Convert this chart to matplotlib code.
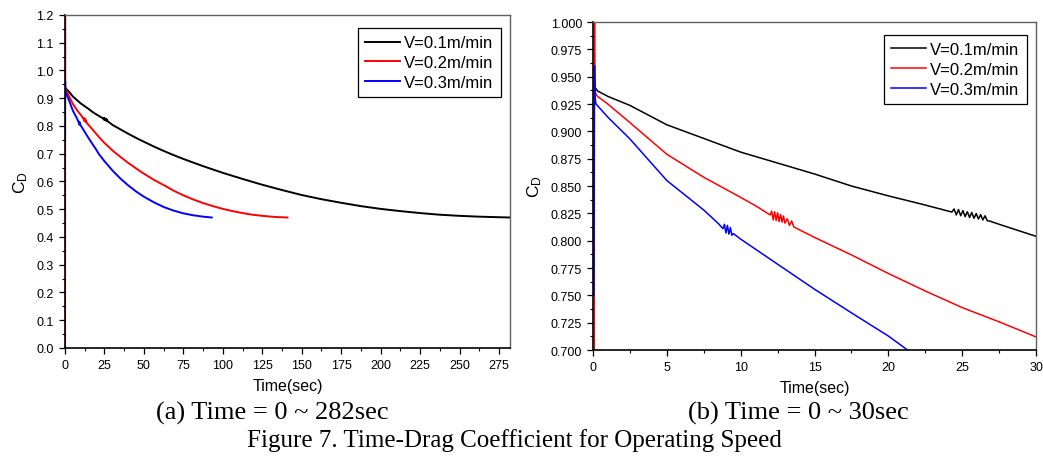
import matplotlib
matplotlib.use('Agg')
import matplotlib.pyplot as plt
from matplotlib.ticker import MultipleLocator, FormatStrFormatter

plt.rcParams['font.family'] = ['Liberation Sans', 'DejaVu Sans']
plt.rcParams['mathtext.default'] = 'regular'

# === Data ===
labels = ['V=0.1m/min', 'V=0.2m/min', 'V=0.3m/min']
colors = ['black', 'red', 'blue']

# V=0.1 m/min
t_01 = [0.15, 0.3, 1, 2.5, 5, 7.5, 10, 12.5, 15, 17.5, 20, 22.5,
        24.3, 24.45, 24.6, 24.75, 24.9, 25.05, 25.2, 25.35, 25.5, 25.65,
        25.8, 25.95, 26.1, 26.25, 26.4, 26.55, 26.7, 26.85,
        27.5, 30, 35, 40, 45, 50, 56.25, 62.5, 68.75, 75, 81.25, 87.5, 93.75,
        100, 112.5, 125, 137.5, 150, 162.5, 175, 187.5, 200, 212.5, 225,
        237.5, 250, 262.5, 275, 282]
cd_01 = [0.940, 0.937, 0.932, 0.9237, 0.906, 0.8935, 0.881, 0.871, 0.861, 0.850, 0.841, 0.8326,
         0.8262, 0.8290, 0.8235, 0.8285, 0.8228, 0.8275, 0.8220, 0.8265, 0.8212, 0.8258,
         0.8205, 0.8248, 0.8198, 0.8238, 0.8190, 0.8228, 0.8182, 0.8180,
         0.815, 0.804, 0.788, 0.772, 0.757, 0.743, 0.726, 0.710, 0.695, 0.681, 0.668, 0.655, 0.643,
         0.631, 0.609, 0.588, 0.569, 0.551, 0.536, 0.523, 0.511, 0.501, 0.493, 0.486,
         0.480, 0.476, 0.473, 0.471, 0.470]

# V=0.2 m/min
t_02 = [0.07, 0.09, 0.12, 0.16, 0.3, 1, 2.5, 5, 7.5, 10, 11.0,
        12.0, 12.1, 12.2, 12.3, 12.4, 12.5, 12.6, 12.7, 12.8, 12.9, 13.0,
        13.15, 13.3, 13.45, 13.6,
        15, 17.5, 20, 22.5, 25, 27.5, 30, 35, 40, 45, 50, 56.25, 62.5, 68.75,
        75, 81.25, 87.5, 93.75, 100, 106.25, 112.5, 118.75, 125, 133, 141]
cd_02 = [0.0, 1.25, 0.952, 0.935, 0.932, 0.925, 0.908, 0.879, 0.858, 0.8396, 0.832,
         0.8235, 0.8270, 0.8190, 0.8265, 0.8185, 0.8255, 0.8175, 0.8240, 0.8170, 0.8225, 0.8160,
         0.8200, 0.8140, 0.8180, 0.8125,
         0.803, 0.787, 0.770, 0.754, 0.7388, 0.7258, 0.712, 0.689, 0.667, 0.647, 0.628, 0.606,
         0.587, 0.567, 0.550, 0.535, 0.522, 0.511, 0.501, 0.493, 0.486, 0.480, 0.476, 0.472, 0.470]

# V=0.3 m/min
t_03 = [0.06, 0.1, 0.13, 0.2, 1, 2.5, 5, 7.5, 8.5,
        8.8, 8.9, 9.0, 9.1, 9.2, 9.3, 9.4, 9.5,
        10, 12.5, 15, 17.5, 20, 21.3, 25, 30, 35, 40, 45, 50, 56.25, 62.5,
        68.75, 75, 81.25, 87.5, 93]
cd_03 = [0.75, 0.96, 0.932, 0.925, 0.913, 0.893, 0.855, 0.828, 0.8155,
         0.8110, 0.8150, 0.8070, 0.8140, 0.8060, 0.8120, 0.8050, 0.8065,
         0.8014, 0.7785, 0.7556, 0.734, 0.7128, 0.700, 0.673, 0.640, 0.611, 0.586, 0.564,
         0.545, 0.525, 0.508, 0.495, 0.485, 0.478, 0.473, 0.470]

series = [(t_01, cd_01), (t_02, cd_02), (t_03, cd_03)]

# === Figure ===
fig = plt.figure(figsize=(10.43, 4.64), dpi=100)
ax1 = fig.add_axes([0.0623, 0.248, 0.4267, 0.7177])
ax2 = fig.add_axes([0.5686, 0.2435, 0.4247, 0.7069])


def style_axes(ax):
    for side in ['left', 'bottom']:
        ax.spines[side].set_color('black')
        ax.spines[side].set_linewidth(1.2)
    for side in ['top', 'right']:
        ax.spines[side].set_color('#606060')
        ax.spines[side].set_linewidth(1.0)
    ax.tick_params(which='both', direction='out', top=False, right=False,
                   labelsize=9, colors='black')
    ax.tick_params(which='major', length=4, width=0.9, pad=4)
    ax.tick_params(which='minor', length=2.5, width=0.8)
    ax.set_xlabel('Time(sec)', fontsize=11.5, labelpad=5)
    ax.set_ylabel('C$_D$', fontsize=12.5, labelpad=5)


for (t, cd), c, lab in zip(series, colors, labels):
    ax1.plot(t, cd, color=c, lw=1.4, label=lab)
    ax2.plot(t, cd, color=c, lw=1.1, label=lab)

ax1.set_xlim(0, 282)
ax1.set_ylim(0, 1.2)
ax1.xaxis.set_major_locator(MultipleLocator(25))
ax1.xaxis.set_minor_locator(MultipleLocator(12.5))
ax1.yaxis.set_major_locator(MultipleLocator(0.1))
ax1.yaxis.set_minor_locator(MultipleLocator(0.05))
ax1.yaxis.set_major_formatter(FormatStrFormatter('%.1f'))
style_axes(ax1)

ax2.set_xlim(0, 30)
ax2.set_ylim(0.7, 1.0)
ax2.xaxis.set_major_locator(MultipleLocator(5))
ax2.xaxis.set_minor_locator(MultipleLocator(2.5))
ax2.yaxis.set_major_locator(MultipleLocator(0.025))
ax2.yaxis.set_minor_locator(MultipleLocator(0.0125))
ax2.yaxis.set_major_formatter(FormatStrFormatter('%.3f'))
style_axes(ax2)

for ax in [ax1, ax2]:
    leg = ax.legend(loc='upper right', bbox_to_anchor=(0.98, 0.961), fontsize=12,
                    fancybox=False, framealpha=1, edgecolor='black',
                    handlelength=2.1, handletextpad=0.25, borderpad=0.45,
                    labelspacing=0.28, borderaxespad=0)
    leg.get_frame().set_linewidth(0.9)

# === Captions ===
cap_font = ['Liberation Serif', 'DejaVu Serif']
fig.text(0.261, 0.108, '(a) Time = 0 ~ 282sec', ha='center', va='center',
         fontsize=19, family=cap_font)
fig.text(0.765, 0.108, '(b) Time = 0 ~ 30sec', ha='center', va='center',
         fontsize=19, family=cap_font)
fig.text(0.493, 0.050, 'Figure 7. Time-Drag Coefficient for Operating Speed',
         ha='center', va='center', fontsize=18, family=cap_font)

fig.savefig('out.png', dpi=100)
